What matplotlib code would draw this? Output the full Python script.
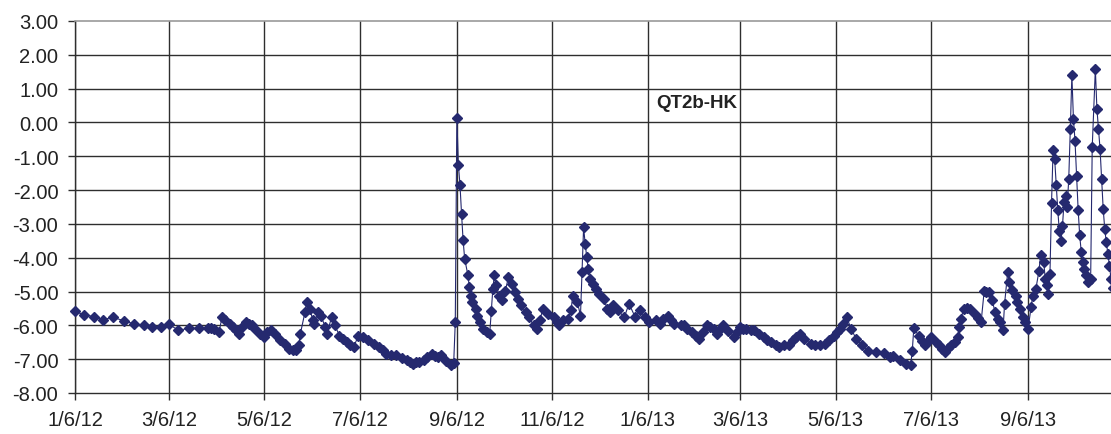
import numpy as np
import pandas as pd
import matplotlib
matplotlib.use("Agg")
import matplotlib.pyplot as plt
import matplotlib.dates as mdates
from matplotlib.ticker import FuncFormatter

plt.rcParams["font.family"] = ["Liberation Sans", "DejaVu Sans"]

# ─── Données : hauteur piézométrique QT2b-HK ─────────────────────────────────
START = "2012-01-06"

# jours écoulés depuis START
day = [
    0, 6, 12, 18, 24, 31, 38, 44, 49, 55, 60, 66, 73, 79, 85, 87, 89, 92, 94, 96,
    99, 101, 103, 105, 107, 109, 111, 113, 115, 118, 121, 123, 125, 128, 131, 134,
    137, 139, 141, 143, 144, 147, 148, 150, 152, 153, 155, 157, 160, 161, 164, 166,
    169, 171, 174, 176, 178,
    181, 184, 187, 191, 194, 197, 199, 202, 205, 209, 212, 214, 216, 218, 220, 223,
    225, 228, 230, 232, 234, 237, 240, 242, 243,
    244, 245, 246, 247, 248, 249, 251,
    252, 253, 254, 256, 257, 259, 261, 263, 265, 266, 267, 268, 269, 271, 273, 275,
    277, 279, 281, 283, 285, 288, 290, 293, 295, 297, 299, 302, 306, 308, 309, 312,
    315, 317, 318, 321, 323, 324, 325, 326, 327, 328, 329, 331, 333, 335, 338, 340,
    342, 344, 347, 351, 354, 358,
    361, 364, 367, 371, 374, 376, 379, 381, 383, 387, 389, 391, 394, 397, 399, 401,
    404, 406, 408, 410, 412, 414, 417, 421, 423, 425, 427, 429, 432, 434, 437, 440,
    442, 445, 448, 450, 453, 456, 459, 461, 463, 466, 470, 473, 476, 479, 482, 485,
    487, 489, 491, 493,
    496, 499, 503, 507, 512, 517, 521, 523, 527, 531, 534, 535, 536, 539, 541, 543,
    545, 547, 550, 552, 554, 556, 558, 560, 562, 564, 565, 566, 568, 570, 572, 575,
    577, 579, 581, 582, 584, 586, 588, 590, 591, 593, 594, 596, 597, 599, 601, 602,
    604, 606, 607, 609,
    611, 612, 614, 616, 617, 619, 620, 621, 622,
    623, 624, 625, 626, 627, 628, 629, 630, 631, 632, 633, 634, 635, 636, 637, 638,
    639, 640, 641, 642, 643, 644, 645, 646, 647, 649, 650, 652, 653, 654, 655, 656,
    657, 658, 659, 660, 661, 662, 663,
]

level = [
    -5.59, -5.69, -5.74, -5.83, -5.76, -5.86, -5.96, -6.00, -6.05, -6.05, -5.97, -6.14,
    -6.09, -6.08, -6.07, -6.08, -6.10, -6.20, -5.75, -5.85, -5.95, -6.05, -6.15, -6.25,
    -6.05, -5.90, -5.95, -6.00, -6.10, -6.25, -6.35, -6.20, -6.13, -6.25, -6.44, -6.54,
    -6.69, -6.74, -6.74, -6.59, -6.25, -5.60, -5.31, -5.51, -5.85, -5.95, -5.60, -5.71,
    -6.05, -6.25, -5.75, -6.00, -6.30, -6.40, -6.49, -6.57, -6.64,
    -6.32, -6.35, -6.44, -6.54, -6.64, -6.74, -6.84, -6.87, -6.89, -6.97, -7.03, -7.08,
    -7.13, -7.08, -7.08, -7.03, -6.94, -6.84, -6.91, -6.94, -6.89, -7.06, -7.18, -7.10,
    -5.90,
    0.13, -1.27, -1.84, -2.70, -3.49, -4.03, -4.50,
    -4.87, -5.12, -5.31, -5.51, -5.71, -5.90, -6.10, -6.20, -6.25, -5.58, -4.92, -4.50,
    -4.82, -5.12, -5.26, -4.97, -4.57, -4.77, -5.02, -5.21, -5.41, -5.61, -5.75, -6.00,
    -6.12, -5.85, -5.51, -5.66, -5.75, -5.90, -6.00, -5.85, -5.80, -5.56, -5.12, -5.31,
    -5.71, -4.42, -3.10, -3.59, -3.98, -4.33, -4.62, -4.77, -4.92, -5.07, -5.21, -5.51,
    -5.61, -5.41, -5.56, -5.76, -5.36, -5.76,
    -5.56, -5.75, -5.90, -5.85, -5.95, -5.80, -5.71, -5.85, -5.95, -6.00, -6.00, -6.10,
    -6.20, -6.30, -6.39, -6.20, -6.00, -6.05, -6.10, -6.25, -6.10, -6.00, -6.18, -6.35,
    -6.20, -6.05, -6.10, -6.10, -6.15, -6.15, -6.25, -6.35, -6.42, -6.49, -6.57, -6.64,
    -6.59, -6.59, -6.44, -6.35, -6.25, -6.39, -6.54, -6.59, -6.59, -6.54, -6.44, -6.30,
    -6.20, -6.10, -5.95, -5.76,
    -6.10, -6.39, -6.59, -6.77, -6.80, -6.81, -6.94, -6.90, -7.03, -7.13, -7.16, -6.76,
    -6.08, -6.30, -6.45, -6.59, -6.45, -6.35, -6.48, -6.59, -6.70, -6.79, -6.68, -6.59,
    -6.48, -6.35, -6.05, -5.80, -5.51, -5.48, -5.51, -5.66, -5.78, -5.90, -4.97, -5.00,
    -5.02, -5.26, -5.61, -5.80, -5.90, -6.15, -5.36, -4.42, -4.72, -4.95, -5.12, -5.30,
    -5.51, -5.75, -5.90, -6.10,
    -5.46, -5.12, -4.92, -4.38, -3.93, -4.13, -4.62, -4.82, -5.07,
    -4.47, -2.38, -0.80, -1.08, -1.85, -2.60, -3.22, -3.52, -3.05, -2.36, -2.16, -2.50,
    -1.67, -0.19, 1.40, 0.10, -0.54, -1.57, -2.58, -3.34, -3.83, -4.13, -4.33, -4.52,
    -4.72, -4.62, -0.73, 1.58, 0.40, -0.19, -0.78, -1.67, -2.55, -3.15, -3.54, -3.88,
    -4.23, -4.62, -4.90,
]
assert len(day) == len(level)

y_ticks = np.arange(-8, 3.01, 1.0)
tick_months = [1, 3, 5, 7, 9, 11]
last_day = 662
label = "QT2b-HK"

NAVY = "#25296f"
GRID = "#2e2e2e"

dates = pd.Timestamp(START) + pd.to_timedelta(day, unit="D")

# ─── Figure ──────────────────────────────────────────────────────────────────
fig = plt.figure(figsize=(11.11, 4.35), dpi=100)
ax = fig.add_axes([75 / 1111, 41 / 435, 1036 / 1111, 372 / 435])

ax.set_xlim(pd.Timestamp(START), pd.Timestamp(START) + pd.Timedelta(days=last_day))
ax.set_ylim(y_ticks[0], y_ticks[-1])

# quadrillage : horizontales intérieures + verticales aux graduations
for yv in y_ticks[1:-1]:
    ax.axhline(yv, color=GRID, lw=1.0, zorder=1)
ax.grid(True, axis="x", color=GRID, lw=1.0, zorder=1)

ax.plot(dates, level, color=NAVY, lw=0.8, marker="D", ms=4.8,
        mfc=NAVY, mec=NAVY, clip_on=False, zorder=3)

ax.set_yticks(y_ticks)
ax.yaxis.set_major_formatter(FuncFormatter(lambda v, p: f"{v:.2f}"))

ax.xaxis.set_major_locator(mdates.MonthLocator(bymonth=tick_months, bymonthday=6))


def fmt_date(v, pos):
    d = mdates.num2date(v)
    return f"{d.month}/{d.day}/{d.year % 100:02d}"


ax.xaxis.set_major_formatter(FuncFormatter(fmt_date))

ax.tick_params(axis="both", direction="out", length=5, width=1.0, color=GRID,
               labelsize=14.5, labelcolor="#222222")
ax.tick_params(axis="y", pad=7)
ax.tick_params(axis="x", pad=7)

for side in ["left", "bottom"]:
    ax.spines[side].set_color(GRID)
    ax.spines[side].set_linewidth(1.0)
ax.spines["top"].set_color("#9a9a9a")
ax.spines["top"].set_linewidth(1.2)
ax.spines["right"].set_visible(False)

ax.text(0.600, 0.782, label, transform=ax.transAxes, ha="center", va="center",
        fontsize=13.5, fontweight="bold", color="#222222")

plt.savefig("out.png", dpi=100)
plt.close()
